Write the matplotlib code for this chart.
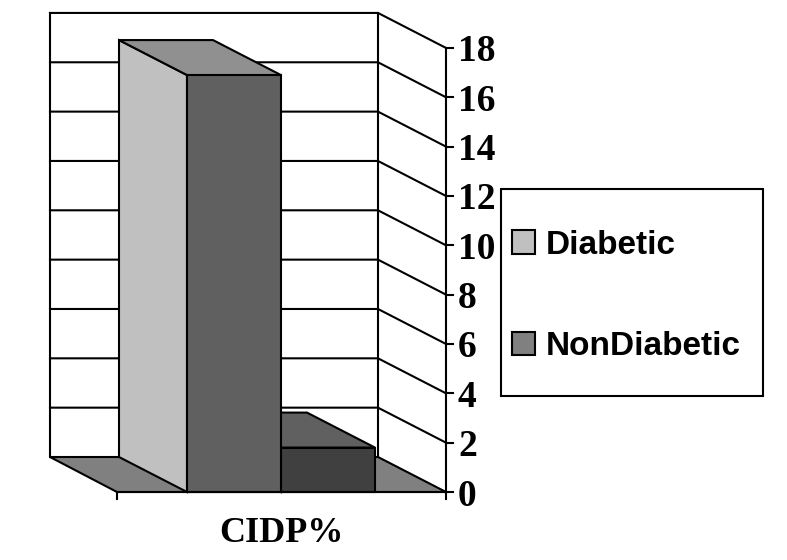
import matplotlib
matplotlib.use("Agg")
import matplotlib.pyplot as plt
from matplotlib.patches import Polygon, Rectangle

# ==========================================================
# Data
# ==========================================================

category = "CIDP%"
series_names = ["Diabetic", "NonDiabetic"]
series_values = [16.9, 1.8]
y_ticks = [0, 2, 4, 6, 8, 10, 12, 14, 16, 18]

# ==========================================================
# Styles and Layout (pixels on the 787x560 canvas)
# ==========================================================

WIDTH = 787
HEIGHT = 560
ZERO_PX = 492
UNIT_PX = 24.67

FRONT_LEFT = 117
FRONT_RIGHT = 446
DEPTH_X = 68
DEPTH_Y = 35 / UNIT_PX

BAR_START = 187
BAR_WIDTH = 94

LW = 1.5

side_colors = ["#c0c0c0", "#404040"]
top_colors = ["#909090", "#606060"]
front_colors = ["#606060", "#404040"]
legend_colors = ["#c0c0c0", "#808080"]

SERIF = "Liberation Serif"
SANS = "Liberation Sans"

# ==========================================================
# Figure
# ==========================================================

fig = plt.figure(figsize=(WIDTH / 100, HEIGHT / 100), dpi=100)
ax = fig.add_axes([0, 0, 1, 1])
ax.set_xlim(0, WIDTH)
ax.set_ylim(-(HEIGHT - ZERO_PX) / UNIT_PX, ZERO_PX / UNIT_PX)
ax.axis("off")


def px_y(pixel):
    return (ZERO_PX - pixel) / UNIT_PX


def poly(points, color, z):
    ax.add_patch(
        Polygon(
            points,
            closed=True,
            facecolor=color,
            edgecolor="black",
            linewidth=LW,
            joinstyle="miter",
            zorder=z,
        )
    )


# ==========================================================
# Walls and Gridlines
# ==========================================================

back_left = FRONT_LEFT - DEPTH_X + 1
back_right = FRONT_RIGHT - DEPTH_X
top_value = y_ticks[-1]

ax.plot(
    [back_left, back_left],
    [DEPTH_Y, top_value + DEPTH_Y],
    color="black",
    linewidth=LW,
    zorder=1,
)
ax.plot(
    [back_right, back_right],
    [DEPTH_Y, top_value + DEPTH_Y],
    color="black",
    linewidth=LW,
    zorder=1,
)

for tick in y_ticks[1:]:
    ax.plot(
        [back_left, back_right, FRONT_RIGHT],
        [tick + DEPTH_Y, tick + DEPTH_Y, tick],
        color="black",
        linewidth=LW,
        zorder=1,
    )

# ==========================================================
# Floor
# ==========================================================

poly(
    [
        (back_left, DEPTH_Y),
        (back_right, DEPTH_Y),
        (FRONT_RIGHT, 0),
        (FRONT_LEFT, 0),
    ],
    "#808080",
    2,
)

# ==========================================================
# Bars (second series first, the first one covers it)
# ==========================================================

for i in reversed(range(len(series_values))):
    value = series_values[i]
    x0 = BAR_START + i * BAR_WIDTH
    x1 = x0 + BAR_WIDTH
    z = 3 + (len(series_values) - i)

    # left side
    poly(
        [
            (x0, 0),
            (x0, value),
            (x0 - DEPTH_X, value + DEPTH_Y),
            (x0 - DEPTH_X, DEPTH_Y),
        ],
        side_colors[i],
        z,
    )

    # top
    poly(
        [
            (x0, value),
            (x1, value),
            (x1 - DEPTH_X, value + DEPTH_Y),
            (x0 - DEPTH_X, value + DEPTH_Y),
        ],
        top_colors[i],
        z,
    )

    # front
    poly(
        [(x0, 0), (x1, 0), (x1, value), (x0, value)],
        front_colors[i],
        z,
    )

# ==========================================================
# Axes, Ticks and Labels
# ==========================================================

ax.plot(
    [FRONT_RIGHT, FRONT_RIGHT],
    [-7 / UNIT_PX, top_value],
    color="black",
    linewidth=LW,
    zorder=8,
)
ax.plot(
    [FRONT_LEFT, FRONT_RIGHT],
    [0, 0],
    color="black",
    linewidth=LW,
    zorder=8,
)
ax.plot(
    [FRONT_LEFT, FRONT_LEFT],
    [-7 / UNIT_PX, 0],
    color="black",
    linewidth=LW,
    zorder=8,
)

for tick in y_ticks:
    ax.plot(
        [FRONT_RIGHT, FRONT_RIGHT + 7],
        [tick, tick],
        color="black",
        linewidth=LW,
        zorder=8,
    )
    ax.text(
        458,
        tick,
        str(tick),
        family=SERIF,
        fontweight="bold",
        fontsize=27,
        ha="left",
        va="center_baseline",
    )

ax.text(
    281,
    px_y(529),
    category,
    family=SERIF,
    fontweight="bold",
    fontsize=26,
    ha="center",
    va="center_baseline",
)

# ==========================================================
# Legend
# ==========================================================

ax.add_patch(
    Rectangle(
        (501, px_y(396)),
        262,
        (396 - 189) / UNIT_PX,
        facecolor="white",
        edgecolor="black",
        linewidth=LW,
        zorder=9,
    )
)

legend_y = [242, 343]

for name, color, y in zip(series_names, legend_colors, legend_y):
    ax.add_patch(
        Rectangle(
            (512, px_y(y + 11.5)),
            23,
            23 / UNIT_PX,
            facecolor=color,
            edgecolor="black",
            linewidth=LW,
            zorder=10,
        )
    )
    ax.text(
        546,
        px_y(y),
        name,
        family=SANS,
        fontweight="bold",
        fontsize=24,
        ha="left",
        va="center_baseline",
        zorder=10,
    )

# ==========================================================
# Save
# ==========================================================

fig.savefig("out.png", dpi=100)
plt.close(fig)
